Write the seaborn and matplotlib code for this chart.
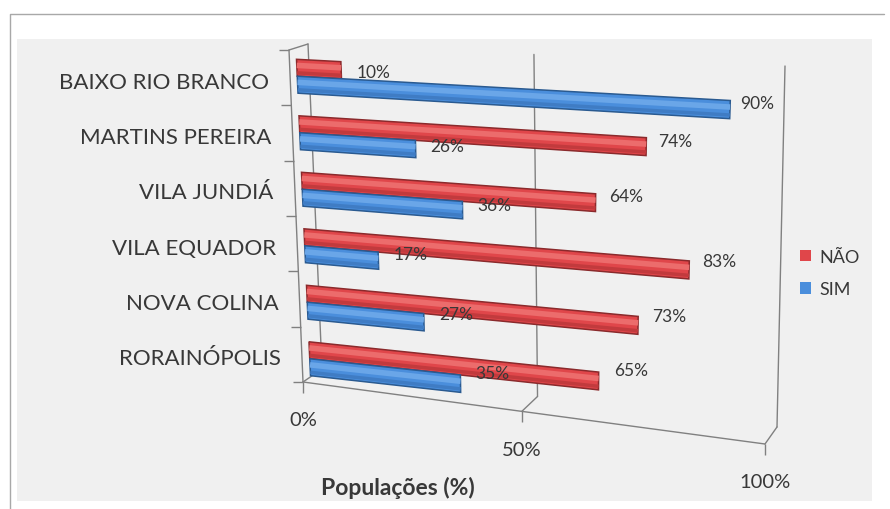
import numpy as np
import pandas as pd
import matplotlib
matplotlib.use("Agg")
import matplotlib.pyplot as plt
import matplotlib.transforms as mtransforms
import matplotlib.lines as mlines
from matplotlib.patches import Rectangle, Patch
import seaborn as sns

# --- dados ------------------------------------------------------------
localidades = ["BAIXO RIO BRANCO", "MARTINS PEREIRA", "VILA JUNDIÁ",
               "VILA EQUADOR", "NOVA COLINA", "RORAINÓPOLIS"]
respostas = ["NÃO", "SIM"]
nao = [10, 74, 64, 83, 73, 65]
sim = [90, 26, 36, 17, 27, 35]
eixo_valores = [0, 50, 100]
eixo_rotulos = ["0%", "50%", "100%"]
titulo_eixo = "Populações (%)"

cores = {"NÃO": "#e0464a", "SIM": "#4a8edc"}
bordas = {"NÃO": "#8a2a2c", "SIM": "#2a5a90"}
brilho = {"NÃO": "#ec6c6c", "SIM": "#6aa6e8"}
sombra = {"NÃO": "#c23a3d", "SIM": "#3f7cc4"}

df = pd.DataFrame({
    "localidade": localidades * 2,
    "resposta": ["NÃO"] * len(localidades) + ["SIM"] * len(localidades),
    "percentual": nao + sim,
})

W_PX, H_PX = 890, 510
GRADE = "#808080"
TEXTO = "#383838"


class Plano(mtransforms.Transform):
    """Maps (percent, row) on one face of the 3-D box to figure fraction.

    Bilinear between the four corners of the face (given in pixels, origin
    at the top left), with a little depth foreshortening along the value
    axis so that the far end of the box looks compressed."""
    input_dims = 2
    output_dims = 2
    is_separable = False
    has_inverse = False

    def __init__(self, tl, tr, bl, br, v0=0.0, v1=1.0, encurtamento=0.9):
        super().__init__()
        self.cantos = np.array([tl, tr, bl, br], float)
        self.v0, self.v1 = v0, v1
        self.k = encurtamento

    def pixels(self, u, v):
        s = np.asarray(u, float) / 100.0
        s = s * self.k / (s * self.k + (1.0 - s))
        t = (np.asarray(v, float) - self.v0) / (self.v1 - self.v0)
        tl, tr, bl, br = self.cantos
        w = [(1 - s) * (1 - t), s * (1 - t), (1 - s) * t, s * t]
        x = w[0] * tl[0] + w[1] * tr[0] + w[2] * bl[0] + w[3] * br[0]
        y = w[0] * tl[1] + w[1] * tr[1] + w[2] * bl[1] + w[3] * br[1]
        return x, y

    def transform_non_affine(self, values):
        values = np.asarray(values, float).reshape(-1, 2)
        x, y = self.pixels(values[:, 0], values[:, 1])
        return np.column_stack([x / W_PX, 1.0 - y / H_PX])


def px(x, y):
    """pixel (origin top left) -> figure fraction"""
    return x / W_PX, 1.0 - y / H_PX


sns.set_theme(style="white")
plt.rcParams["font.family"] = ["Lato", "DejaVu Sans"]

fig = plt.figure(figsize=(W_PX / 100, H_PX / 100), dpi=100)
ax = fig.add_axes([0, 0, 1, 1])
sns.barplot(data=df, x="percentual", y="localidade", hue="resposta",
            order=localidades, hue_order=respostas, palette=cores,
            orient="h", width=0.6, errorbar=None, legend=False, ax=ax)
ax.set_axis_off()
ax.patch.set_visible(False)
tf = fig.transFigure

n = len(localidades)
# faces of the 3-D box
barras = Plano((296, 49), (785, 74), (311, 388), (770, 440), v0=-0.5, v1=n - 0.5)
rotulos = Plano((312, 52), (794, 67), (326, 377), (786, 428), v0=-0.5, v1=n - 0.5)
parede = Plano((308, 45), (785, 67), (322, 370), (777, 428))
piso = Plano((322, 370), (777, 428), (303, 383), (765, 445))
lateral = Plano((289, 51), (308, 45), (303, 383), (322, 370),
                v0=-0.5, v1=n - 0.5, encurtamento=1.0)

# chart area and frame
ax.add_patch(Rectangle(px(17, 502), 855 / W_PX, 462 / H_PX, transform=tf,
                       facecolor="#f0f0f0", edgecolor="none", zorder=0.1))
ax.add_line(mlines.Line2D([px(10, 0)[0], px(10, 0)[0], px(884, 0)[0]],
                          [px(0, 510)[1], px(0, 15)[1], px(0, 15)[1]],
                          transform=tf, color="#a8a8a8", lw=1.0, zorder=0.2))

linha = dict(color=GRADE, lw=1.0, clip_on=False, zorder=1)
# back wall and floor gridlines
for u in eixo_valores:
    ax.add_line(mlines.Line2D([u, u], [0, 1], transform=parede + tf, **linha))
    ax.add_line(mlines.Line2D([u, u], [0, 1], transform=piso + tf, **linha))
ax.add_line(mlines.Line2D([0, 100], [1, 1], transform=piso + tf, **linha))
ax.add_line(mlines.Line2D(eixo_valores, [1] * len(eixo_valores), transform=piso + tf,
                          ls="none", marker=mlines.TICKDOWN, ms=8, mew=1.0,
                          color=GRADE, clip_on=False, zorder=1))
# side wall (category axis)
ax.add_line(mlines.Line2D([0, 0], [-0.5, n - 0.5], transform=lateral + tf, **linha))
ax.add_line(mlines.Line2D([0, 100], [-0.5, -0.5], transform=lateral + tf, **linha))
ax.add_line(mlines.Line2D([0] * (n + 1), np.arange(n + 1) - 0.5, transform=lateral + tf,
                          ls="none", marker=mlines.TICKLEFT, ms=7, mew=1.0,
                          color=GRADE, clip_on=False, zorder=1))

# bars: reproject seaborn's rectangles onto the bar plane, shaded like cylinders
for i, (resp, cont) in enumerate(zip(respostas, ax.containers)):
    z = 2 + i * 0.3
    for barra in cont:
        barra.set_transform(barras + tf)
        barra.set_facecolor(cores[resp])
        barra.set_edgecolor(bordas[resp])
        barra.set_linewidth(1.1)
        barra.set_clip_on(False)
        barra.set_zorder(z)
        y0, h, w = barra.get_y(), barra.get_height(), barra.get_width()
        ax.add_line(mlines.Line2D([0, w], [y0 + 0.36 * h] * 2, transform=barras + tf,
                                  color=brilho[resp], lw=4.0, solid_capstyle="butt",
                                  clip_on=False, zorder=z + 0.1))
        ax.add_line(mlines.Line2D([0, w], [y0 + 0.8 * h] * 2, transform=barras + tf,
                                  color=sombra[resp], lw=2.5, solid_capstyle="butt",
                                  clip_on=False, zorder=z + 0.1))
        lx, ly = rotulos.pixels(w, y0 + h / 2)
        ax.text(*px(lx, ly), f"{w:.0f}%", transform=tf, ha="left", va="center",
                fontsize=12.5, color=TEXTO, zorder=4)

# category labels
for k, nome in enumerate(localidades):
    x, y = lateral.pixels(0, k)
    ax.text(*px(x - 21, y + 4), nome, transform=tf, ha="right", va="center",
            fontsize=16, color=TEXTO, zorder=4)

# value axis labels
for u, rot in zip(eixo_valores, eixo_rotulos):
    x, y = piso.pixels(u, 1)
    ax.text(*px(x, y + 38), rot, transform=tf, ha="center", va="center",
            fontsize=14.5, color=TEXTO, zorder=4)

ax.text(*px(398, 488), titulo_eixo, transform=tf, ha="center", va="center",
        fontsize=16.5, fontweight="bold", color=TEXTO, zorder=4)

alcas = [Patch(facecolor=cores[r], edgecolor="none") for r in respostas]
leg = ax.legend(alcas, respostas, loc="center left", bbox_to_anchor=px(800, 274),
                bbox_transform=tf, frameon=False, fontsize=13,
                handlelength=0.6, handleheight=0.6, handletextpad=0.5,
                labelspacing=0.9, borderpad=0, borderaxespad=0)
for t in leg.get_texts():
    t.set_color(TEXTO)

fig.savefig("out.png", dpi=100)
